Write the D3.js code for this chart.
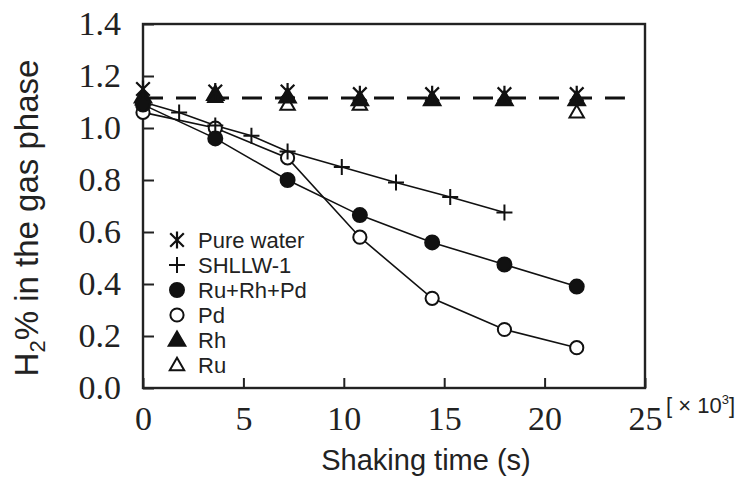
<!DOCTYPE html>
<html>
<head>
<meta charset="utf-8">
<script src="https://cdn.jsdelivr.net/npm/d3@7"></script>
<style>
  body { margin: 0; background: #fff; }
  svg { display: block; }
  .tick text { font-family: "Liberation Serif", "Times New Roman", serif; font-size: 34px; fill: #222; }
  .domain { display: none; }
</style>
</head>
<body>
<svg id="chart" width="753" height="486"></svg>
<script>
// sampling times, x10^3 s
var times = [0, 3.6, 7.2, 10.8, 14.4, 18.0, 21.6];
var shllwTimes = [0, 1.8, 3.6, 5.4, 7.2, 9.9, 12.6, 15.3, 18.0];

// H2 % in the gas phase
var pureWater = [1.15, 1.14, 1.14, 1.13, 1.13, 1.13, 1.13];
var rh = [1.12, 1.13, 1.12, 1.11, 1.11, 1.11, 1.11];
var ru = [1.11, 1.12, 1.09, 1.09, 1.11, 1.11, 1.06];
var ruRhPd = [1.09, 0.96, 0.80, 0.665, 0.56, 0.475, 0.39];
var pd = [1.06, 1.00, 0.885, 0.58, 0.345, 0.225, 0.155];
var shllw = [1.10, 1.06, 1.01, 0.97, 0.91, 0.85, 0.79, 0.735, 0.675];

// dashed reference level
var refLevel = 1.115;
var refRange = [0, 24];

var xTicks = [0, 5, 10, 15, 20, 25];
var yTicks = [0, 0.2, 0.4, 0.6, 0.8, 1.0, 1.2, 1.4];
var legendNames = ["Pure water", "SHLLW-1", "Ru+Rh+Pd", "Pd", "Rh", "Ru"];

var svg = d3.select("#chart");
// plot box (don't call it "top", that's window.top)
var plotL = 143, plotR = 645, plotT = 24, plotB = 388;

var x = d3.scaleLinear().domain([0, 25]).range([plotL, plotR]);
var y = d3.scaleLinear().domain([0, 1.4]).range([plotB, plotT]);

// axes, ticks pointing inward
var xAxis = d3.axisBottom(x)
  .tickValues(xTicks)
  .tickSizeInner(-10)
  .tickSizeOuter(0)
  .tickPadding(18)
  .tickFormat(d3.format("d"));

var yAxis = d3.axisLeft(y)
  .tickValues(yTicks)
  .tickSizeInner(-11)
  .tickSizeOuter(0)
  .tickPadding(22)
  .tickFormat(d3.format(".1f"));

svg.append("g")
  .attr("transform", "translate(0," + plotB + ")")
  .call(xAxis);

svg.append("g")
  .attr("transform", "translate(" + plotL + ",0)")
  .call(yAxis);

svg.selectAll(".tick line")
  .attr("stroke", "#222")
  .attr("stroke-width", 2);

svg.selectAll(".tick text").attr("font-family", null).attr("font-size", null);

// frame
svg.append("rect")
  .attr("x", plotL).attr("y", plotT)
  .attr("width", plotR - plotL).attr("height", plotB - plotT)
  .attr("fill", "none")
  .attr("stroke", "#222")
  .attr("stroke-width", 2.4);

// dashed line
svg.append("line")
  .attr("x1", x(refRange[0])).attr("x2", x(refRange[1]))
  .attr("y1", y(refLevel)).attr("y2", y(refLevel))
  .attr("stroke", "#111")
  .attr("stroke-width", 3)
  .attr("stroke-dasharray", "20,13");

var line = d3.line()
  .x(function(d) { return x(d[0]); })
  .y(function(d) { return y(d[1]); });

function pairs(xs, ys) {
  return xs.map(function(v, i) { return [v, ys[i]]; });
}

[pairs(shllwTimes, shllw), pairs(times, ruRhPd), pairs(times, pd)].forEach(function(pts) {
  svg.append("path")
    .attr("d", line(pts))
    .attr("fill", "none")
    .attr("stroke", "#111")
    .attr("stroke-width", 1.6);
});

// marker drawing
function drawMarker(g, type, cx, cy) {
  if (type === "asterisk") {
    var r = 8.5;
    var a = r * 0.8;
    g.append("path")
      .attr("d", "M" + cx + "," + (cy - r) + "V" + (cy + r) +
        "M" + (cx - a) + "," + (cy - a) + "L" + (cx + a) + "," + (cy + a) +
        "M" + (cx + a) + "," + (cy - a) + "L" + (cx - a) + "," + (cy + a))
      .attr("stroke", "#111").attr("stroke-width", 2.2).attr("fill", "none");
  } else if (type === "plus") {
    var p = 8;
    g.append("path")
      .attr("d", "M" + cx + "," + (cy - p) + "V" + (cy + p) +
        "M" + (cx - p) + "," + cy + "H" + (cx + p))
      .attr("stroke", "#111").attr("stroke-width", 2).attr("fill", "none");
  } else if (type === "dot" || type === "circle") {
    g.append("circle")
      .attr("cx", cx).attr("cy", cy).attr("r", type === "dot" ? 7 : 6.6)
      .attr("fill", type === "dot" ? "#111" : "#fff")
      .attr("stroke", "#111").attr("stroke-width", 2);
  } else {
    g.append("path")
      .attr("d", d3.symbol(d3.symbolTriangle, type === "tri" ? 120 : 90)())
      .attr("transform", "translate(" + cx + "," + (cy + 1) + ")")
      .attr("fill", type === "tri" ? "#111" : "#fff")
      .attr("stroke", "#111").attr("stroke-width", 2);
  }
}

var marks = svg.append("g");
var seriesList = [
  { type: "openTri", xs: times, ys: ru },
  { type: "tri", xs: times, ys: rh },
  { type: "circle", xs: times, ys: pd },
  { type: "dot", xs: times, ys: ruRhPd },
  { type: "plus", xs: shllwTimes, ys: shllw },
  { type: "asterisk", xs: times, ys: pureWater }
];
seriesList.forEach(function(s) {
  s.xs.forEach(function(t, i) { drawMarker(marks, s.type, x(t), y(s.ys[i])); });
});

// legend
var legendTypes = ["asterisk", "plus", "dot", "circle", "tri", "openTri"];
var legend = svg.append("g");
legendNames.forEach(function(name, i) {
  var ly = 240 + i * 25;
  drawMarker(legend, legendTypes[i], 177, ly);
  legend.append("text")
    .attr("x", 198).attr("y", ly + 8)
    .attr("font-family", "Liberation Sans, Arial, sans-serif")
    .attr("font-size", 22)
    .attr("fill", "#222")
    .text(name);
});

// axis titles
svg.append("text")
  .attr("x", 426).attr("y", 470)
  .attr("text-anchor", "middle")
  .attr("font-family", "Liberation Sans, Arial, sans-serif")
  .attr("font-size", 29)
  .attr("fill", "#222")
  .text("Shaking time (s)");

var yTitle = svg.append("text")
  .attr("transform", "translate(38,218) rotate(-90)")
  .attr("text-anchor", "middle")
  .attr("font-family", "Liberation Sans, Arial, sans-serif")
  .attr("font-size", 33)
  .attr("fill", "#222");
yTitle.append("tspan").text("H");
yTitle.append("tspan").attr("font-size", 22).attr("dy", 7).text("2");
yTitle.append("tspan").attr("dy", -7).text("% in the gas phase");

var unit = svg.append("text")
  .attr("x", 666).attr("y", 413)
  .attr("font-family", "Liberation Sans, Arial, sans-serif")
  .attr("font-size", 22)
  .attr("fill", "#222");
unit.append("tspan").text("[ \u00d7 10");
unit.append("tspan").attr("font-size", 13).attr("dy", -9).text("3");
unit.append("tspan").attr("dy", 9).text("]");
</script>
</body>
</html>
